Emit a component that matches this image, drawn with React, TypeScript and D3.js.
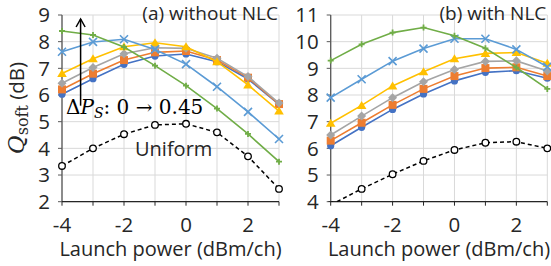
import * as d3 from 'd3';

const powers = [-4, -3, -2, -1, 0, 1, 2, 3];

// (a) without NLC
const aBlue = [6.03, 6.61, 7.15, 7.46, 7.54, 7.25, 6.6, 5.65];
const aOrange = [6.21, 6.8, 7.31, 7.6, 7.65, 7.31, 6.65, 5.66];
const aGray = [6.44, 7.03, 7.55, 7.77, 7.75, 7.38, 6.69, 5.7];
const aYellow = [6.81, 7.36, 7.81, 7.96, 7.81, 7.25, 6.38, 5.4];
const aLightBlue = [7.62, 7.99, 8.09, 7.71, 7.16, 6.31, 5.37, 4.35];
const aGreen = [8.4, 8.25, 7.8, 7.1, 6.35, 5.49, 4.54, 3.5];
const aUniform = [3.34, 4.0, 4.53, 4.88, 4.92, 4.6, 3.7, 2.48];

// (b) with NLC
const bBlue = [6.1, 6.79, 7.46, 8.04, 8.53, 8.85, 8.91, 8.63];
const bOrange = [6.29, 6.96, 7.63, 8.23, 8.71, 9.01, 9.04, 8.71];
const bGray = [6.5, 7.21, 7.9, 8.5, 8.96, 9.26, 9.28, 8.9];
const bYellow = [6.94, 7.61, 8.34, 8.87, 9.36, 9.56, 9.59, 9.19];
const bLightBlue = [7.9, 8.59, 9.27, 9.74, 10.11, 10.11, 9.71, 9.06];
const bGreen = [9.29, 9.9, 10.34, 10.53, 10.22, 9.75, 9.03, 8.23];
const bUniform = [3.88, 4.48, 5.03, 5.53, 5.94, 6.21, 6.25, 6.0];

const xTicks = [-4, -2, 0, 2];
const colors = ['#4472C4', '#ED7D31', '#A5A5A5', '#FFC000', '#5B9BD5', '#70AD47'];
const markers = ['circle', 'square', 'diamond', 'triangle', 'x', 'plus'];

const SANS = "'Open Sans', 'Noto Sans', sans-serif";
const SERIF = "'DejaVu Serif', 'Liberation Serif', serif";

function Marker({ kind, x, y, color }: { kind: string; x: number; y: number; color: string }) {
  switch (kind) {
    case 'circle':
      return <circle cx={x} cy={y} r={3.6} fill={color} />;
    case 'square':
      return <rect x={x - 4} y={y - 4} width={8} height={8} fill={color} />;
    case 'diamond':
      return <path d={`M${x},${y - 4.5}L${x + 4.5},${y}L${x},${y + 4.5}L${x - 4.5},${y}Z`} fill={color} />;
    case 'triangle':
      return <path d={`M${x},${y - 4.5}L${x + 4.8},${y + 3.5}L${x - 4.8},${y + 3.5}Z`} fill={color} />;
    case 'x':
      return (
        <path d={`M${x - 4},${y - 4}L${x + 4},${y + 4}M${x - 4},${y + 4}L${x + 4},${y - 4}`} stroke={color} strokeWidth={1.6} />
      );
    default:
      return (
        <path d={`M${x - 3},${y}L${x + 3},${y}M${x},${y - 3}L${x},${y + 3}`} stroke={color} strokeWidth={1.8} />
      );
  }
}

function Panel({ id, x0, x1, yMin, yMax, series, uniform, title }: {
  id: string; x0: number; x1: number; yMin: number; yMax: number;
  series: number[][]; uniform: number[]; title: string;
}) {
  const top = 15;
  const bottom = 201.7;
  const x = d3.scaleLinear().domain([-4, 3]).range([x0, x1]);
  const y = d3.scaleLinear().domain([yMin, yMax]).range([bottom, top]);
  const yTicks = d3.range(yMin, yMax + 1);
  const line = d3.line<number>().x((_, i) => x(powers[i])).y(d => y(d));

  return (
    <g>
      <defs>
        <clipPath id={`clip-${id}`}>
          <rect x={x0 - 6} y={top - 6} width={x1 - x0 + 12} height={bottom - top + 6} />
        </clipPath>
      </defs>
      {powers.map(p => (
        <line key={`gv${p}`} x1={x(p)} x2={x(p)} y1={top} y2={bottom} stroke="#D9D9D9" strokeWidth={1} />
      ))}
      {yTicks.map(t => (
        <line key={`gh${t}`} x1={x0} x2={x1} y1={y(t)} y2={y(t)} stroke="#D9D9D9" strokeWidth={1} />
      ))}
      <line x1={x0} x2={x0} y1={top} y2={bottom} stroke="#595959" strokeWidth={1.3} />
      <line x1={x0} x2={x1} y1={bottom} y2={bottom} stroke="#262626" strokeWidth={1.3} />
      {yTicks.map(t => (
        <line key={`yt${t}`} x1={x0 - 4} x2={x0} y1={y(t)} y2={y(t)} stroke="#595959" strokeWidth={1} />
      ))}
      {powers.map(p => (
        <line key={`xt${p}`} x1={x(p)} x2={x(p)} y1={bottom} y2={bottom + 4} stroke="#262626" strokeWidth={1} />
      ))}
      {yTicks.map(t => (
        <text key={`yl${t}`} x={x0 - 12} y={y(t)} dy="0.35em" textAnchor="end" fontSize={20.5} fill="#262626" fontFamily={SANS}>{t}</text>
      ))}
      {xTicks.map(t => (
        <text key={`xl${t}`} x={x(t)} y={231.5} textAnchor="middle" fontSize={20.5} fill="#262626" fontFamily={SANS}>{t}</text>
      ))}
      <text x={(x0 + x1) / 2} y={256} textAnchor="middle" fontSize={20} fill="#262626" fontFamily={SANS}>Launch power (dBm/ch)</text>
      <g clipPath={`url(#clip-${id})`}>
        {series.map((s, k) => (
          <g key={`s${k}`}>
            <path d={line(s) ?? ''} fill="none" stroke={colors[k]} strokeWidth={1.6} />
            {s.map((v, i) => (
              <Marker key={i} kind={markers[k]} x={x(powers[i])} y={y(v)} color={colors[k]} />
            ))}
          </g>
        ))}
        <path d={line(uniform) ?? ''} fill="none" stroke="#000" strokeWidth={1.5} strokeDasharray="4,3" />
        {uniform.map((v, i) => (
          <circle key={`u${i}`} cx={x(powers[i])} cy={y(v)} r={3.3} fill="#fff" stroke="#000" strokeWidth={1.3} />
        ))}
      </g>
      <text x={x1 - 1} y={20} textAnchor="end" fontSize={19} fill="#262626" fontFamily={SANS}>{title}</text>
    </g>
  );
}

export default function App() {
  const xa = d3.scaleLinear().domain([-4, 3]).range([62, 279]);
  const ya = d3.scaleLinear().domain([2, 9]).range([201.7, 15]);
  const ax = xa(-3.4);
  return (
    <svg width={551} height={266} style={{ position: 'absolute', left: 0, top: 0, background: '#fff' }}>
      <Panel id="a" x0={62} x1={279} yMin={2} yMax={9}
        series={[aBlue, aOrange, aGray, aYellow, aLightBlue, aGreen]} uniform={aUniform} title="(a) without NLC" />
      <Panel id="b" x0={330.7} x1={547.3} yMin={4} yMax={11}
        series={[bBlue, bOrange, bGray, bYellow, bLightBlue, bGreen]} uniform={bUniform} title="(b) with NLC" />
      <text transform="translate(24,108) rotate(-90)" textAnchor="middle" fontSize={20.5} fill="#262626">
        <tspan fontFamily={SERIF} fontStyle="italic" fontSize={23}>Q</tspan>
        <tspan fontFamily={SERIF} fontSize={16} dy={4}>soft</tspan>
        <tspan fontFamily={SANS} dy={-4}> (dB)</tspan>
      </text>
      <line x1={ax} x2={ax} y1={ya(5.6)} y2={ya(8.85)} stroke="#000" strokeWidth={1.5} />
      <path d={`M${ax - 4.5},${ya(8.55)}L${ax},${ya(8.85)}L${ax + 4.5},${ya(8.55)}`} fill="none" stroke="#000" strokeWidth={1.5} />
      <text x={66} y={114} fontSize={20} fill="#000" fontFamily={SERIF}>
        <tspan>Δ</tspan><tspan fontStyle="italic">P</tspan><tspan fontStyle="italic" fontSize={14} dy={4}>S</tspan><tspan dy={-4}>: 0 → 0.45</tspan>
      </text>
      <text x={135} y={156} fontSize={20} fill="#262626" fontFamily={SANS}>Uniform</text>
    </svg>
  );
}
